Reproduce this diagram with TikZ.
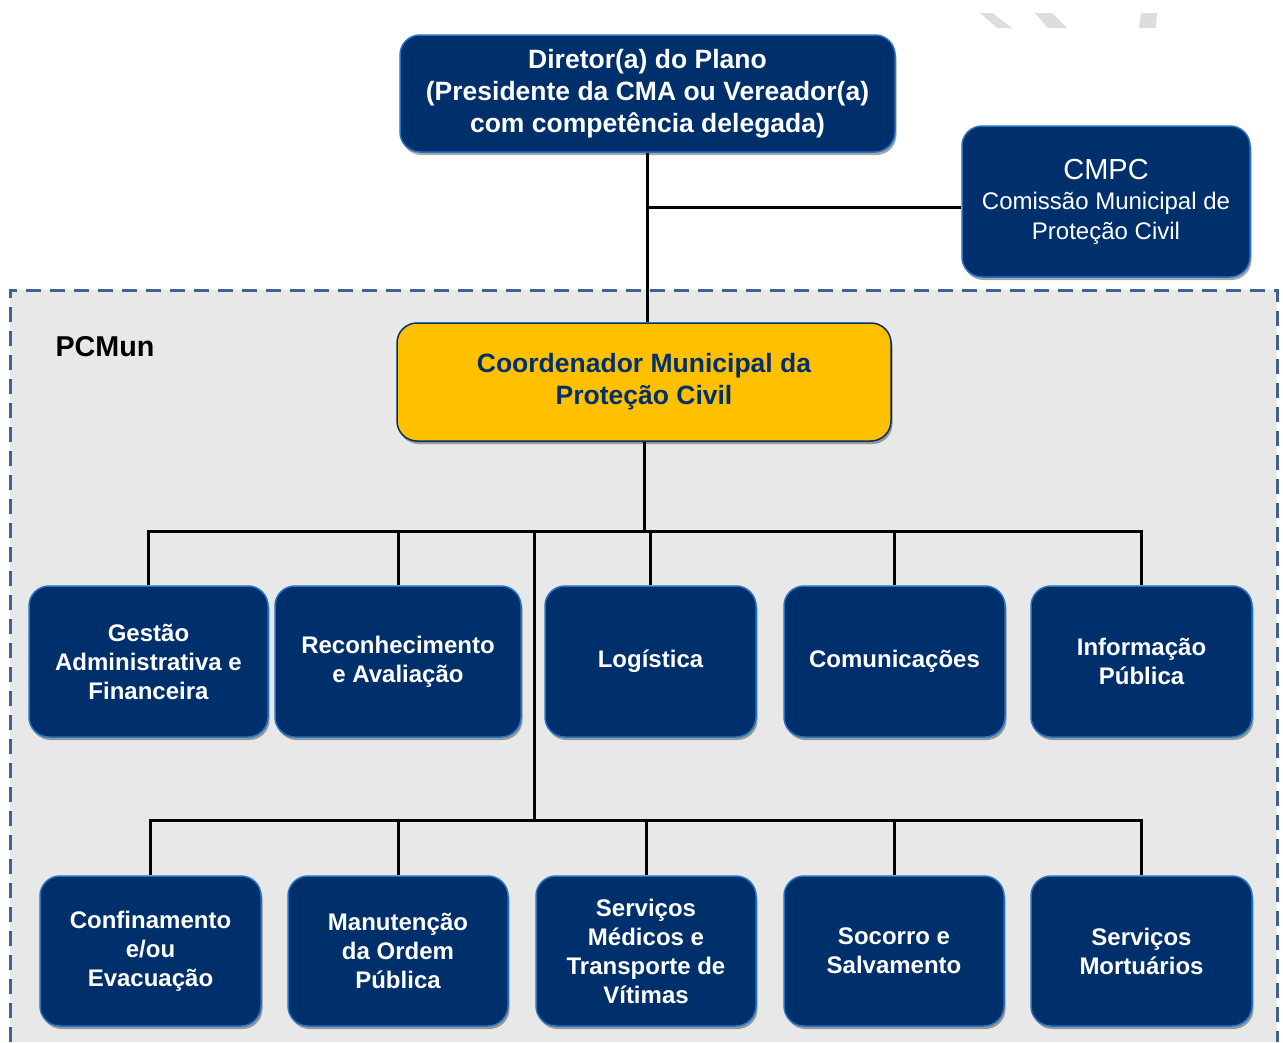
\documentclass[tikz,border=0pt]{standalone}
\usepackage{fontspec}
\setmainfont{Liberation Sans}
\usetikzlibrary{shadows}
\definecolor{navy}{RGB}{0,48,107}
\definecolor{edge}{RGB}{35,115,195}
\definecolor{amber}{RGB}{255,192,0}
\definecolor{dashblue}{RGB}{65,98,145}
\definecolor{panel}{RGB}{232,232,232}
\definecolor{wmark}{RGB}{221,221,221}

\begin{document}
\begin{tikzpicture}[x=1pt, y=-1pt,
      sh/.style={drop shadow={shadow xshift=1.5pt, shadow yshift=-3pt,
                 opacity=.35, fill=black}},
      nb/.style={sh, draw=edge, line width=1.5pt, fill=navy, rounded corners=20pt,
                 inner sep=0pt, align=center, text=white,
                 font=\fontsize{24}{29}\selectfont\bfseries},
      nb2/.style={nb, font=\fontsize{26.5}{32}\selectfont\bfseries},
      yb/.style={sh, draw=navy, line width=1.5pt, fill=amber, rounded corners=20pt,
                 inner sep=0pt, align=center, text=navy,
                 font=\fontsize{26.5}{32}\selectfont\bfseries},
      cn/.style={draw=black, line width=3pt}
    ]
      \useasboundingbox (0,0) rectangle (1283,1042);

      % watermark bits, top right
      \fill[wmark] (980,13) -- (992,13) -- (1012,28) -- (997,28) -- cycle;
      \fill[wmark] (1035,13) -- (1052,13) -- (1067,28) -- (1048,28) -- cycle;
      \fill[wmark] (1141,13) -- (1157,13) -- (1156,28) -- (1139,28) -- cycle;

      % PCMun area
      \fill[panel] (10,290) rectangle (1277,1042);
      \draw[dashblue, line width=3pt, dash pattern=on 15pt off 9pt]
        (10,1042) -- (10,290) -- (1277,290) -- (1277,1042);
      \node[font=\fontsize{28.7}{30}\selectfont\bfseries] (pcmun) at (105,347) {PCMun};

      % top level
      \node[nb2, minimum width=495pt, minimum height=117pt] (dir) at (647.5,93.5)
        {Diretor(a) do Plano\\(Presidente da CMA ou Vereador(a)\\com competência delegada)};
      \node[nb, font=\fontsize{24}{30}\selectfont, minimum width=288pt, minimum height=151pt]
        (cmpc) at (1106,201.5)
        {{\fontsize{29}{32}\selectfont CMPC}\\Comissão Municipal de\\Proteção Civil};
      \node[yb, minimum width=494pt, minimum height=118pt] (coord) at (644,382)
        {Coordenador Municipal da\\Proteção Civil};

      % first row
      \node[nb, minimum width=239pt, minimum height=151pt] (gest)  at (148.5,661.5)
        {Gestão\\Administrativa e\\Financeira};
      \node[nb, minimum width=246pt, minimum height=151pt] (recon) at (398,661.5)
        {Reconhecimento\\e Avaliação};
      \node[nb, minimum width=211pt, minimum height=151pt] (logi)  at (650.5,661.5)
        {Logística};
      \node[nb, minimum width=221pt, minimum height=151pt] (comun) at (894.5,661.5)
        {Comunicações};
      \node[nb, minimum width=221pt, minimum height=151pt] (info)  at (1141.5,661.5)
        {Informação\\Pública};

      % second row
      \node[nb, minimum width=221pt, minimum height=150pt] (conf)  at (150.5,951)
        {Confinamento\\e/ou\\Evacuação};
      \node[nb, minimum width=220pt, minimum height=150pt] (manut) at (398,951)
        {Manutenção\\da Ordem\\Pública};
      \node[nb, minimum width=220pt, minimum height=150pt] (medic) at (646,951)
        {Serviços\\Médicos e\\Transporte de\\Vítimas};
      \node[nb, minimum width=220pt, minimum height=150pt] (socor) at (894,951)
        {Socorro e\\Salvamento};
      \node[nb, minimum width=221pt, minimum height=150pt] (mort)  at (1141.5,951)
        {Serviços\\Mortuários};

      % links
      \draw[cn] (dir.south) -- (dir.south |- coord.north);
      \coordinate (tee) at (dir.south |- 0,207);
      \draw[cn] (tee) -- (tee -| cmpc.west);

      \coordinate (bus1) at (coord.south |- 0,531);
      \draw[cn] (coord.south) -- (bus1);
      \foreach \n in {gest,recon,logi,comun,info}
        \draw[cn] (\n.north) |- (bus1);

      \coordinate (fork) at (534,531);
      \coordinate (bus2) at (534,820);
      \draw[cn] (fork) -- (bus2);
      \foreach \n in {conf,manut,medic,socor,mort}
        \draw[cn] (\n.north) |- (bus2);
    \end{tikzpicture}
\end{document}
